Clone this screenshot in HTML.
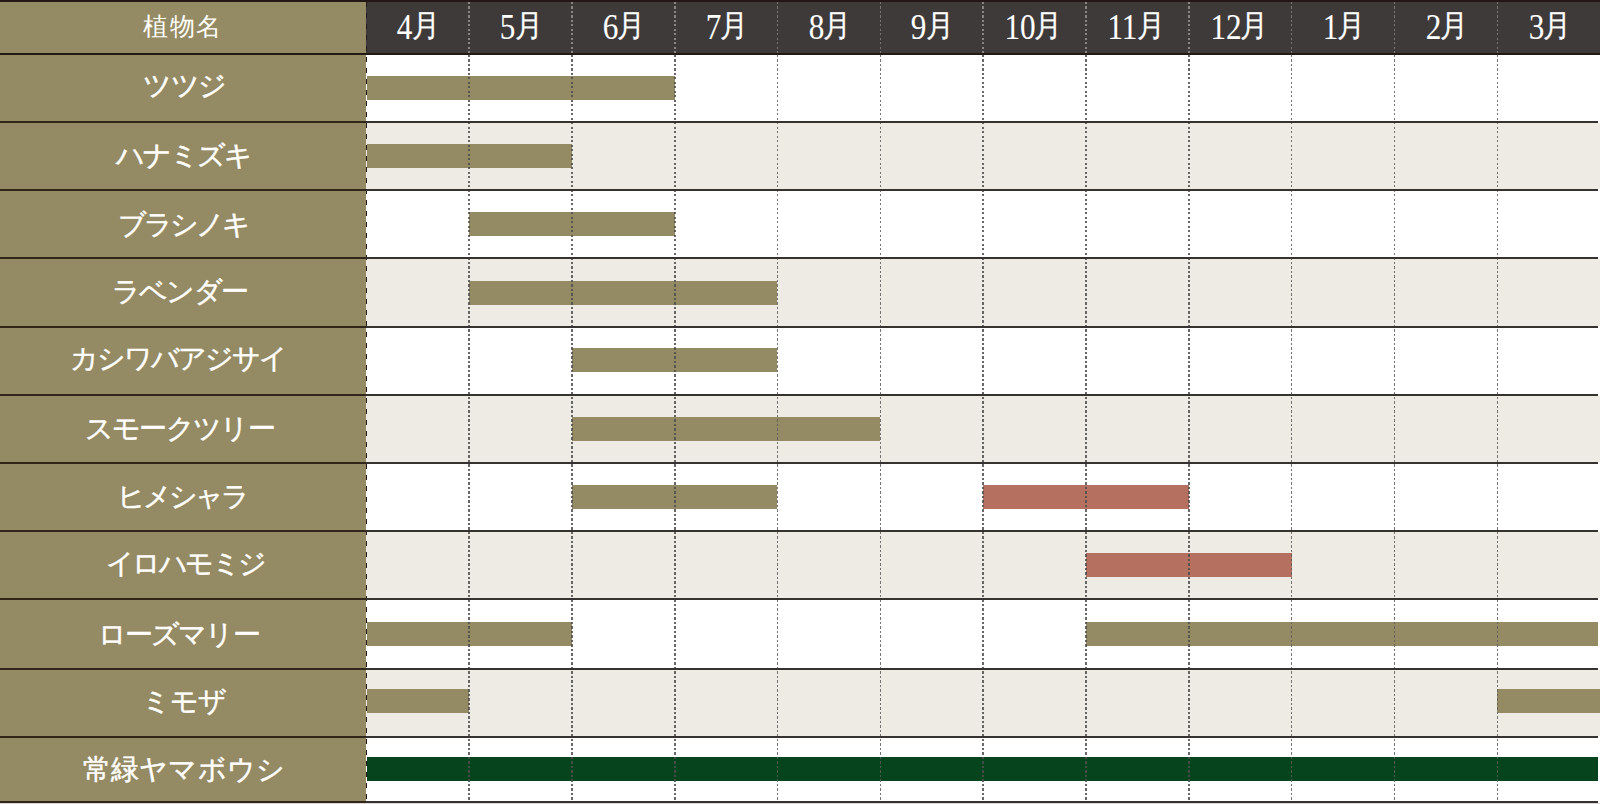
<!DOCTYPE html>
<html lang="ja">
<head>
<meta charset="utf-8">
<title>植物の開花時期</title>
<style>
html,body{margin:0;padding:0;background:#fff;}
body{width:1600px;height:804px;overflow:hidden;position:relative;font-family:"Liberation Serif",serif;}
.bg,.ln,.bar,.vd,.dl{position:absolute;}
.ln{height:2px;}
.bar{height:24px;}
.lab{position:absolute;color:#fffefa;white-space:nowrap;line-height:1;-webkit-text-stroke:0.45px #fff;}
.mon{position:absolute;color:#fff;white-space:nowrap;line-height:1;text-align:center;width:102.8px;}
.mon span{display:inline-block;}
.vd{width:2px;}
</style>
</head>
<body>
<div class="bg" style="left:0;top:0;width:366px;height:54px;background:#948a64"></div>
<div class="bg" style="left:366px;top:0;width:1234px;height:54px;background:#3e3a39"></div>
<div class="ln" style="left:0;top:0;width:1600px;background:#231815"></div>
<div class="bg" style="left:0;top:54.8px;width:366px;height:66.2px;background:#948a64"></div>
<div class="bg" style="left:366px;top:54.8px;width:1234px;height:66.2px;background:#fff"></div>
<div class="bg" style="left:0;top:123.0px;width:366px;height:66.0px;background:#948a64"></div>
<div class="bg" style="left:366px;top:123.0px;width:1234px;height:66.0px;background:#eeebe5"></div>
<div class="bg" style="left:0;top:191.0px;width:366px;height:66.3px;background:#948a64"></div>
<div class="bg" style="left:366px;top:191.0px;width:1234px;height:66.3px;background:#fff"></div>
<div class="bg" style="left:0;top:259.3px;width:366px;height:66.4px;background:#948a64"></div>
<div class="bg" style="left:366px;top:259.3px;width:1234px;height:66.4px;background:#eeebe5"></div>
<div class="bg" style="left:0;top:327.7px;width:366px;height:66.1px;background:#948a64"></div>
<div class="bg" style="left:366px;top:327.7px;width:1234px;height:66.1px;background:#fff"></div>
<div class="bg" style="left:0;top:395.8px;width:366px;height:66.2px;background:#948a64"></div>
<div class="bg" style="left:366px;top:395.8px;width:1234px;height:66.2px;background:#eeebe5"></div>
<div class="bg" style="left:0;top:464.0px;width:366px;height:65.7px;background:#948a64"></div>
<div class="bg" style="left:366px;top:464.0px;width:1234px;height:65.7px;background:#fff"></div>
<div class="bg" style="left:0;top:531.7px;width:366px;height:66.2px;background:#948a64"></div>
<div class="bg" style="left:366px;top:531.7px;width:1234px;height:66.2px;background:#eeebe5"></div>
<div class="bg" style="left:0;top:599.9px;width:366px;height:67.8px;background:#948a64"></div>
<div class="bg" style="left:366px;top:599.9px;width:1234px;height:67.8px;background:#fff"></div>
<div class="bg" style="left:0;top:669.7px;width:366px;height:66.2px;background:#948a64"></div>
<div class="bg" style="left:366px;top:669.7px;width:1234px;height:66.2px;background:#eeebe5"></div>
<div class="bg" style="left:0;top:737.9px;width:366px;height:63.4px;background:#948a64"></div>
<div class="bg" style="left:366px;top:737.9px;width:1234px;height:63.4px;background:#fff"></div>
<div class="bar" style="left:367.0px;top:75.5px;width:307.6px;background:#948a64"></div>
<div class="bar" style="left:367.0px;top:144.0px;width:204.7px;background:#948a64"></div>
<div class="bar" style="left:468.9px;top:212.2px;width:205.7px;background:#948a64"></div>
<div class="bar" style="left:468.9px;top:280.5px;width:308.6px;background:#948a64"></div>
<div class="bar" style="left:571.7px;top:347.8px;width:205.7px;background:#948a64"></div>
<div class="bar" style="left:571.7px;top:416.9px;width:308.6px;background:#948a64"></div>
<div class="bar" style="left:571.7px;top:484.9px;width:205.7px;background:#948a64"></div>
<div class="bar" style="left:983.1px;top:484.9px;width:205.7px;background:#b6705f"></div>
<div class="bar" style="left:1086.0px;top:552.8px;width:205.7px;background:#b6705f"></div>
<div class="bar" style="left:367.0px;top:621.8px;width:204.7px;background:#948a64"></div>
<div class="bar" style="left:1086.0px;top:621.8px;width:512.3px;background:#948a64"></div>
<div class="bar" style="left:367.0px;top:689.1px;width:101.9px;background:#948a64"></div>
<div class="bar" style="left:1497.4px;top:689.1px;width:102.6px;background:#948a64"></div>
<div class="bar" style="left:367.0px;top:756.6px;width:1231.3px;background:#06441d"></div>
<div class="vd" style="left:468px;width:2px;top:2px;height:51px;background:repeating-linear-gradient(to bottom,#8a8585 0 2px,transparent 2px 4.5px)"></div>
<div class="vd" style="left:468px;width:2px;top:55px;height:747px;background:repeating-linear-gradient(to bottom,#4d4d4d 0 2px,transparent 2px 4.5px);opacity:.85"></div>
<div class="vd" style="left:571px;width:2px;top:2px;height:51px;background:repeating-linear-gradient(to bottom,#8a8585 0 2px,transparent 2px 4.5px)"></div>
<div class="vd" style="left:571px;width:2px;top:55px;height:747px;background:repeating-linear-gradient(to bottom,#4d4d4d 0 2px,transparent 2px 4.5px);opacity:.85"></div>
<div class="vd" style="left:674px;width:2px;top:2px;height:51px;background:repeating-linear-gradient(to bottom,#8a8585 0 2px,transparent 2px 4.5px)"></div>
<div class="vd" style="left:674px;width:2px;top:55px;height:747px;background:repeating-linear-gradient(to bottom,#4d4d4d 0 2px,transparent 2px 4.5px);opacity:.85"></div>
<div class="vd" style="left:777px;width:1px;top:2px;height:51px;background:repeating-linear-gradient(to bottom,#7a7575 0 2px,transparent 2px 4.5px)"></div>
<div class="vd" style="left:777px;width:1px;top:55px;height:747px;background:repeating-linear-gradient(to bottom,#5c5c5c 0 2px,transparent 2px 4.5px);opacity:.85"></div>
<div class="vd" style="left:880px;width:1px;top:2px;height:51px;background:repeating-linear-gradient(to bottom,#7a7575 0 2px,transparent 2px 4.5px)"></div>
<div class="vd" style="left:880px;width:1px;top:55px;height:747px;background:repeating-linear-gradient(to bottom,#5c5c5c 0 2px,transparent 2px 4.5px);opacity:.85"></div>
<div class="vd" style="left:982px;width:2px;top:2px;height:51px;background:repeating-linear-gradient(to bottom,#8a8585 0 2px,transparent 2px 4.5px)"></div>
<div class="vd" style="left:982px;width:2px;top:55px;height:747px;background:repeating-linear-gradient(to bottom,#4d4d4d 0 2px,transparent 2px 4.5px);opacity:.85"></div>
<div class="vd" style="left:1085px;width:2px;top:2px;height:51px;background:repeating-linear-gradient(to bottom,#8a8585 0 2px,transparent 2px 4.5px)"></div>
<div class="vd" style="left:1085px;width:2px;top:55px;height:747px;background:repeating-linear-gradient(to bottom,#4d4d4d 0 2px,transparent 2px 4.5px);opacity:.85"></div>
<div class="vd" style="left:1188px;width:2px;top:2px;height:51px;background:repeating-linear-gradient(to bottom,#8a8585 0 2px,transparent 2px 4.5px)"></div>
<div class="vd" style="left:1188px;width:2px;top:55px;height:747px;background:repeating-linear-gradient(to bottom,#4d4d4d 0 2px,transparent 2px 4.5px);opacity:.85"></div>
<div class="vd" style="left:1291px;width:1px;top:2px;height:51px;background:repeating-linear-gradient(to bottom,#7a7575 0 2px,transparent 2px 4.5px)"></div>
<div class="vd" style="left:1291px;width:1px;top:55px;height:747px;background:repeating-linear-gradient(to bottom,#5c5c5c 0 2px,transparent 2px 4.5px);opacity:.85"></div>
<div class="vd" style="left:1394px;width:1px;top:2px;height:51px;background:repeating-linear-gradient(to bottom,#7a7575 0 2px,transparent 2px 4.5px)"></div>
<div class="vd" style="left:1394px;width:1px;top:55px;height:747px;background:repeating-linear-gradient(to bottom,#5c5c5c 0 2px,transparent 2px 4.5px);opacity:.85"></div>
<div class="vd" style="left:1497px;width:1px;top:2px;height:51px;background:repeating-linear-gradient(to bottom,#7a7575 0 2px,transparent 2px 4.5px)"></div>
<div class="vd" style="left:1497px;width:1px;top:55px;height:747px;background:repeating-linear-gradient(to bottom,#5c5c5c 0 2px,transparent 2px 4.5px);opacity:.85"></div>
<div class="dl" style="left:366px;top:2px;width:1px;height:801px;background:repeating-linear-gradient(to bottom,#231815 0 5.5px,transparent 5.5px 11px)"></div>
<div class="ln" style="left:0;top:52.8px;width:1600px;background:#221a14"></div>
<div class="ln" style="left:0;top:121.0px;width:366px;background:#30271a"></div>
<div class="ln" style="left:366px;top:121.0px;width:1232px;background:#363230"></div>
<div class="ln" style="left:0;top:189.0px;width:366px;background:#30271a"></div>
<div class="ln" style="left:366px;top:189.0px;width:1232px;background:#363230"></div>
<div class="ln" style="left:0;top:257.3px;width:366px;background:#30271a"></div>
<div class="ln" style="left:366px;top:257.3px;width:1232px;background:#363230"></div>
<div class="ln" style="left:0;top:325.7px;width:366px;background:#30271a"></div>
<div class="ln" style="left:366px;top:325.7px;width:1232px;background:#363230"></div>
<div class="ln" style="left:0;top:393.8px;width:366px;background:#30271a"></div>
<div class="ln" style="left:366px;top:393.8px;width:1232px;background:#363230"></div>
<div class="ln" style="left:0;top:462.0px;width:366px;background:#30271a"></div>
<div class="ln" style="left:366px;top:462.0px;width:1232px;background:#363230"></div>
<div class="ln" style="left:0;top:529.7px;width:366px;background:#30271a"></div>
<div class="ln" style="left:366px;top:529.7px;width:1232px;background:#363230"></div>
<div class="ln" style="left:0;top:597.9px;width:366px;background:#30271a"></div>
<div class="ln" style="left:366px;top:597.9px;width:1232px;background:#363230"></div>
<div class="ln" style="left:0;top:667.7px;width:366px;background:#30271a"></div>
<div class="ln" style="left:366px;top:667.7px;width:1232px;background:#363230"></div>
<div class="ln" style="left:0;top:735.9px;width:366px;background:#30271a"></div>
<div class="ln" style="left:366px;top:735.9px;width:1232px;background:#363230"></div>
<div class="ln" style="left:0;top:801.3px;width:366px;background:#30271a"></div>
<div class="ln" style="left:366px;top:801.3px;width:1232px;background:#363230"></div>
<div class="bg" style="left:0;top:803px;width:1600px;height:1px;background:#dcd7d6"></div>
<div class="mon" style="left:367.5px;top:10.0px"><span style="font-size:30px;-webkit-text-stroke:0.05px #fff;transform:translateY(1px) scale(1.04,1.18)">4</span><span style="font-size:31px;-webkit-text-stroke:0.25px currentColor;margin-left:-2.5px;transform:translateY(0px) scaleX(0.9);">月</span></div>
<div class="mon" style="left:470.4px;top:10.0px"><span style="font-size:30px;-webkit-text-stroke:0.05px #fff;transform:translateY(1px) scale(1.04,1.18)">5</span><span style="font-size:31px;-webkit-text-stroke:0.25px currentColor;margin-left:-2.5px;transform:translateY(0px) scaleX(0.9);">月</span></div>
<div class="mon" style="left:573.2px;top:10.0px"><span style="font-size:30px;-webkit-text-stroke:0.05px #fff;transform:translateY(1px) scale(1.04,1.18)">6</span><span style="font-size:31px;-webkit-text-stroke:0.25px currentColor;margin-left:-2.5px;transform:translateY(0px) scaleX(0.9);">月</span></div>
<div class="mon" style="left:676.1px;top:10.0px"><span style="font-size:30px;-webkit-text-stroke:0.05px #fff;transform:translateY(1px) scale(1.04,1.18)">7</span><span style="font-size:31px;-webkit-text-stroke:0.25px currentColor;margin-left:-2.5px;transform:translateY(0px) scaleX(0.9);">月</span></div>
<div class="mon" style="left:779.0px;top:10.0px"><span style="font-size:30px;-webkit-text-stroke:0.05px #fff;transform:translateY(1px) scale(1.04,1.18)">8</span><span style="font-size:31px;-webkit-text-stroke:0.25px currentColor;margin-left:-2.5px;transform:translateY(0px) scaleX(0.9);">月</span></div>
<div class="mon" style="left:881.8px;top:10.0px"><span style="font-size:30px;-webkit-text-stroke:0.05px #fff;transform:translateY(1px) scale(1.04,1.18)">9</span><span style="font-size:31px;-webkit-text-stroke:0.25px currentColor;margin-left:-2.5px;transform:translateY(0px) scaleX(0.9);">月</span></div>
<div class="mon" style="left:982.7px;top:10.0px"><span style="font-size:30px;-webkit-text-stroke:0.05px #fff;transform:translateY(1px) scale(1.04,1.18)">10</span><span style="font-size:31px;-webkit-text-stroke:0.25px currentColor;margin-left:-2.5px;transform:translateY(0px) scaleX(0.9);">月</span></div>
<div class="mon" style="left:1085.5px;top:10.0px"><span style="font-size:30px;-webkit-text-stroke:0.05px #fff;transform:translateY(1px) scale(1.04,1.18)">11</span><span style="font-size:31px;-webkit-text-stroke:0.25px currentColor;margin-left:-2.5px;transform:translateY(0px) scaleX(0.9);">月</span></div>
<div class="mon" style="left:1188.4px;top:10.0px"><span style="font-size:30px;-webkit-text-stroke:0.05px #fff;transform:translateY(1px) scale(1.04,1.18)">12</span><span style="font-size:31px;-webkit-text-stroke:0.25px currentColor;margin-left:-2.5px;transform:translateY(0px) scaleX(0.9);">月</span></div>
<div class="mon" style="left:1293.3px;top:10.0px"><span style="font-size:30px;-webkit-text-stroke:0.05px #fff;transform:translateY(1px) scale(1.04,1.18)">1</span><span style="font-size:31px;-webkit-text-stroke:0.25px currentColor;margin-left:-2.5px;transform:translateY(0px) scaleX(0.9);">月</span></div>
<div class="mon" style="left:1396.1px;top:10.0px"><span style="font-size:30px;-webkit-text-stroke:0.05px #fff;transform:translateY(1px) scale(1.04,1.18)">2</span><span style="font-size:31px;-webkit-text-stroke:0.25px currentColor;margin-left:-2.5px;transform:translateY(0px) scaleX(0.9);">月</span></div>
<div class="mon" style="left:1499.0px;top:10.0px"><span style="font-size:30px;-webkit-text-stroke:0.05px #fff;transform:translateY(1px) scale(1.04,1.18)">3</span><span style="font-size:31px;-webkit-text-stroke:0.25px currentColor;margin-left:-2.5px;transform:translateY(0px) scaleX(0.9);">月</span></div>
<div class="lab" style="left:143.0px;top:13.8px;font-size:25px;letter-spacing:1.50px;-webkit-text-stroke:0">植物名</div>
<div class="lab" style="left:143.4px;top:71.6px;font-size:28px;letter-spacing:-1.50px">ツツジ</div>
<div class="lab" style="left:115.8px;top:141.9px;font-size:28px;letter-spacing:-1.90px">ハナミズキ</div>
<div class="lab" style="left:117.6px;top:210.5px;font-size:28px;letter-spacing:-2.90px">ブラシノキ</div>
<div class="lab" style="left:111.6px;top:277.9px;font-size:28px;letter-spacing:-1.55px">ラベンダー</div>
<div class="lab" style="left:69.8px;top:344.9px;font-size:28px;letter-spacing:-1.91px">カシワバアジサイ</div>
<div class="lab" style="left:84.8px;top:414.8px;font-size:28px;letter-spacing:-1.70px">スモークツリー</div>
<div class="lab" style="left:117.2px;top:483.4px;font-size:28px;letter-spacing:-3.10px">ヒメシャラ</div>
<div class="lab" style="left:105.8px;top:549.7px;font-size:28px;letter-spacing:-2.48px">イロハモミジ</div>
<div class="lab" style="left:97.8px;top:620.9px;font-size:28px;letter-spacing:-1.84px">ローズマリー</div>
<div class="lab" style="left:142.0px;top:688.1px;font-size:28px;letter-spacing:-0.80px">ミモザ</div>
<div class="lab" style="left:82.6px;top:755.9px;font-size:28px;letter-spacing:0.23px">常緑ヤマボウシ</div>
</body>
</html>
